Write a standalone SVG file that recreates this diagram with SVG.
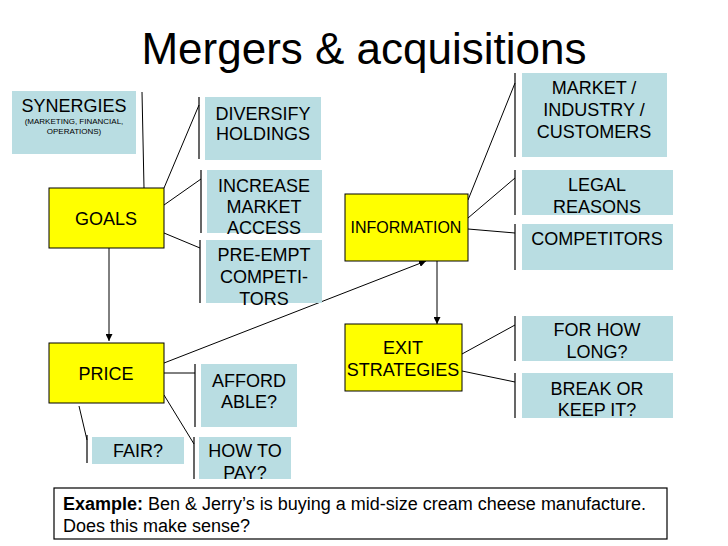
<svg xmlns="http://www.w3.org/2000/svg" width="728" height="546" viewBox="0 0 728 546">
<defs>
<marker id="arr" viewBox="0 0 10 10" refX="10" refY="5" markerWidth="7" markerHeight="7" markerUnits="userSpaceOnUse" orient="auto"><path d="M0,0 L10,5 L0,10 z" fill="#000"/></marker>
<style>
text{font-family:"Liberation Sans",Arial,sans-serif;fill:#000;text-anchor:middle}
.t18{font-size:18px}
.t16{font-size:16px}
.t8{font-size:8px}
.blue{fill:#b9dde2}
.yel{fill:#ffff00;stroke:#000;stroke-width:1}
.ln{stroke:#000;stroke-width:1;fill:none}
.bar{stroke:#000;stroke-width:1.2;fill:none}
</style>
</defs>
<rect width="728" height="546" fill="#fff"/>
<text x="364" y="64" style="font-size:44px">Mergers &amp; acquisitions</text>

<g id="connectors">
<line class="ln" x1="142" y1="92" x2="144" y2="188"/>
<line class="ln" x1="164" y1="188" x2="199" y2="105"/>
<line class="bar" x1="199" y1="97" x2="199" y2="159"/>
<line class="ln" x1="164" y1="205" x2="201" y2="179"/>
<line class="bar" x1="201" y1="170" x2="201" y2="233"/>
<line class="ln" x1="164" y1="233" x2="200" y2="248"/>
<line class="bar" x1="200" y1="240" x2="200" y2="303"/>
<line class="ln" x1="109" y1="248" x2="109" y2="341" marker-end="url(#arr)"/>
<line class="ln" x1="164" y1="363" x2="426" y2="261" marker-end="url(#arr)"/>
<line class="ln" x1="164" y1="373" x2="195" y2="373"/>
<line class="bar" x1="195" y1="364" x2="195" y2="427"/>
<line class="ln" x1="164" y1="395" x2="194" y2="444"/>
<line class="bar" x1="194" y1="437" x2="194" y2="479"/>
<line class="ln" x1="79" y1="406" x2="87" y2="440"/>
<line class="bar" x1="87" y1="435" x2="87" y2="463"/>
<line class="ln" x1="468" y1="200" x2="515" y2="83"/>
<line class="bar" x1="515" y1="73" x2="515" y2="157"/>
<line class="ln" x1="468" y1="218" x2="515" y2="178"/>
<line class="bar" x1="515" y1="170" x2="515" y2="215"/>
<line class="ln" x1="468" y1="229" x2="515" y2="233"/>
<line class="bar" x1="515" y1="224" x2="515" y2="270"/>
<line class="ln" x1="437" y1="261" x2="437" y2="324" marker-end="url(#arr)"/>
<line class="ln" x1="462" y1="354" x2="515" y2="325"/>
<line class="bar" x1="515" y1="316" x2="515" y2="361"/>
<line class="ln" x1="462" y1="371" x2="515" y2="382"/>
<line class="bar" x1="515" y1="373" x2="515" y2="418"/>
</g>

<g id="synergies">
<rect class="blue" x="12" y="91" width="124" height="63"/>
<text class="t18" x="74" y="112">SYNERGIES</text>
<text class="t8" x="74" y="124">(MARKETING, FINANCIAL,</text>
<text class="t8" x="74" y="134">OPERATIONS)</text>
</g>
<g id="goals">
<rect class="yel" x="49" y="188" width="115" height="60"/>
<text class="t18" x="106" y="225">GOALS</text>
</g>
<g id="diversify">
<rect class="blue" x="205" y="97" width="116" height="63"/>
<text class="t18" x="263" y="120">DIVERSIFY</text>
<text class="t18" x="263" y="140">HOLDINGS</text>
</g>
<g id="increase">
<rect class="blue" x="207" y="170" width="115" height="63"/>
<text class="t18" x="264" y="192">INCREASE</text>
<text class="t18" x="264" y="213">MARKET</text>
<text class="t18" x="264" y="234">ACCESS</text>
</g>
<g id="preempt">
<rect class="blue" x="206" y="240" width="116" height="63"/>
<text class="t18" x="264" y="261">PRE-EMPT</text>
<text class="t18" x="264" y="283">COMPETI-</text>
<text class="t18" x="264" y="305">TORS</text>
</g>
<g id="price">
<rect class="yel" x="49" y="343" width="115" height="60"/>
<text class="t18" x="106" y="380">PRICE</text>
</g>
<g id="affordable">
<rect class="blue" x="201" y="364" width="96" height="63"/>
<text class="t18" x="249" y="387">AFFORD</text>
<text class="t18" x="249" y="408">ABLE?</text>
</g>
<g id="howtopay">
<rect class="blue" x="199" y="437" width="92" height="42"/>
<text class="t18" x="245" y="457">HOW TO</text>
<text class="t18" x="245" y="479">PAY?</text>
</g>
<g id="fair">
<rect class="blue" x="92" y="437" width="92" height="27"/>
<text class="t18" x="138" y="457">FAIR?</text>
</g>
<g id="information">
<rect class="yel" x="345" y="194" width="123" height="67"/>
<text class="t16" x="406" y="233">INFORMATION</text>
</g>
<g id="market">
<rect class="blue" x="522" y="73" width="145" height="84"/>
<text class="t18" x="594" y="94">MARKET /</text>
<text class="t18" x="594" y="116">INDUSTRY /</text>
<text class="t18" x="594" y="138">CUSTOMERS</text>
</g>
<g id="legal">
<rect class="blue" x="522" y="170" width="151" height="45"/>
<text class="t18" x="597" y="191">LEGAL</text>
<text class="t18" x="597" y="213">REASONS</text>
</g>
<g id="competitors">
<rect class="blue" x="522" y="224" width="151" height="46"/>
<text class="t18" x="597" y="245">COMPETITORS</text>
</g>
<g id="exit">
<rect class="yel" x="345" y="324" width="117" height="67"/>
<text class="t18" x="403" y="354">EXIT</text>
<text class="t18" x="403" y="376">STRATEGIES</text>
</g>
<g id="forhowlong">
<rect class="blue" x="522" y="316" width="151" height="45"/>
<text class="t18" x="597" y="336">FOR HOW</text>
<text class="t18" x="597" y="358">LONG?</text>
</g>
<g id="breakorkeep">
<rect class="blue" x="522" y="373" width="151" height="45"/>
<text class="t18" x="597" y="395">BREAK OR</text>
<text class="t18" x="597" y="416">KEEP IT?</text>
</g>
<g id="example">
<rect x="54" y="488" width="613" height="51" fill="#fff" stroke="#000" stroke-width="1.2"/>
<text class="t18" x="63" y="510" style="text-anchor:start"><tspan font-weight="bold">Example:</tspan> Ben &amp; Jerry’s is buying a mid-size cream cheese manufacture.</text>
<text class="t18" x="63" y="532" style="text-anchor:start">Does this make sense?</text>
</g>
</svg>
